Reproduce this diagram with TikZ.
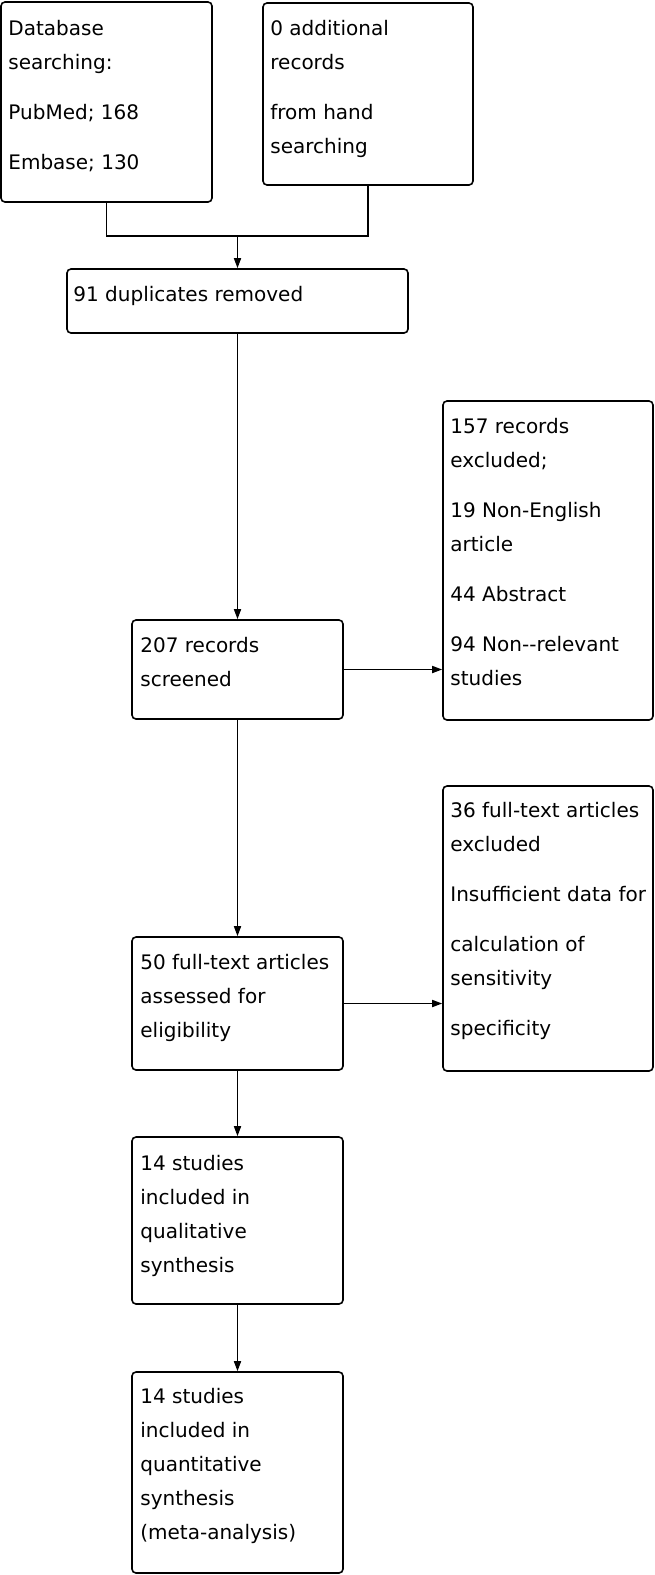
\documentclass[tikz,border=0pt]{standalone}
\usepackage{fontspec}
\setmainfont{DejaVu Sans}
\usetikzlibrary{arrows.meta}
\newcommand{\firstln}{\rule{0pt}{20pt}}
\begin{document}
\begin{tikzpicture}[x=1pt,y=-1pt,
  fbox/.style={draw=black, line width=1.6pt, rounded corners=4pt, inner sep=0pt},
  txt/.style={anchor=north west, inner sep=0pt, align=left, font=\fontsize{20}{34}\selectfont},
  conn/.style={draw=black, line width=1.6pt},
  arr/.style={conn, -{Triangle[length=10pt,width=7pt]}}]
\useasboundingbox (0,0) rectangle (654,1575);
\fill[white] (0,0) rectangle (654,1575);

\node[fbox, minimum width=211pt, minimum height=200pt] (db) at (106.5,102) {};
\node[fbox, minimum width=210pt, minimum height=182pt] (hand) at (368,94) {};
\node[fbox, minimum width=341pt, minimum height=64pt] (dup) at (237.5,301) {};
\node[fbox, minimum width=211pt, minimum height=99pt] (scr) at (237.5,669.5) {};
\node[fbox, minimum width=210pt, minimum height=319pt] (exa) at (548,560.5) {};
\node[fbox, minimum width=211pt, minimum height=133pt] (full) at (237.5,1003.5) {};
\node[fbox, minimum width=210pt, minimum height=285pt] (exb) at (548,928.5) {};
\node[fbox, minimum width=211pt, minimum height=167pt] (qual) at (237.5,1220.5) {};
\node[fbox, minimum width=211pt, minimum height=201pt] (quant) at (237.5,1472.5) {};

\node[txt] (dbt) at ([shift={(8pt,-14pt)}]db.north west) {\firstln Database\\searching:\\[16pt]PubMed; 168\\[16pt]Embase; 130};
\node[txt] (handt) at ([shift={(8pt,-13pt)}]hand.north west) {\firstln 0 additional\\records\\[16pt]from hand\\searching};
\node[txt] (dupt) at ([shift={(7pt,-13pt)}]dup.north west) {\firstln 91 duplicates removed};
\node[txt] (scrt) at ([shift={(9pt,-13pt)}]scr.north west) {\firstln 207 records\\screened};
\node[txt] (exat) at ([shift={(8pt,-13pt)}]exa.north west) {\firstln 157 records\\excluded;\\[16pt]19 Non-English\\article\\[16pt]44 Abstract\\[16pt]94 Non-{}-relevant\\studies};
\node[txt] (fullt) at ([shift={(9pt,-13pt)}]full.north west) {\firstln 50 full-text articles\\assessed for\\eligibility};
\node[txt] (exbt) at ([shift={(8pt,-12pt)}]exb.north west) {\firstln 36 full-text articles\\excluded\\[16pt]Insufficient data for\\[16pt]calculation of\\sensitivity\\[16pt]specificity};
\node[txt] (qualt) at ([shift={(9pt,-14pt)}]qual.north west) {\firstln 14 studies\\included in\\qualitative\\synthesis};
\node[txt] (quantt) at ([shift={(9pt,-12pt)}]quant.north west) {\firstln 14 studies\\included in\\quantitative\\synthesis\\(meta-analysis)};

\coordinate (m) at (238,236);
\draw[conn] (db.south) -- (db.south |- m) -- (hand.south |- m) -- (hand.south);
\draw[arr] (dup.north |- m) -- (dup.north);
\draw[arr] (dup.south) -- (scr.north);
\draw[arr] (scr.east) -- (scr.east -| exa.west);
\draw[arr] (scr.south) -- (full.north);
\draw[arr] (full.east) -- (full.east -| exb.west);
\draw[arr] (full.south) -- (qual.north);
\draw[arr] (qual.south) -- (quant.north);
\end{tikzpicture}
\end{document}
